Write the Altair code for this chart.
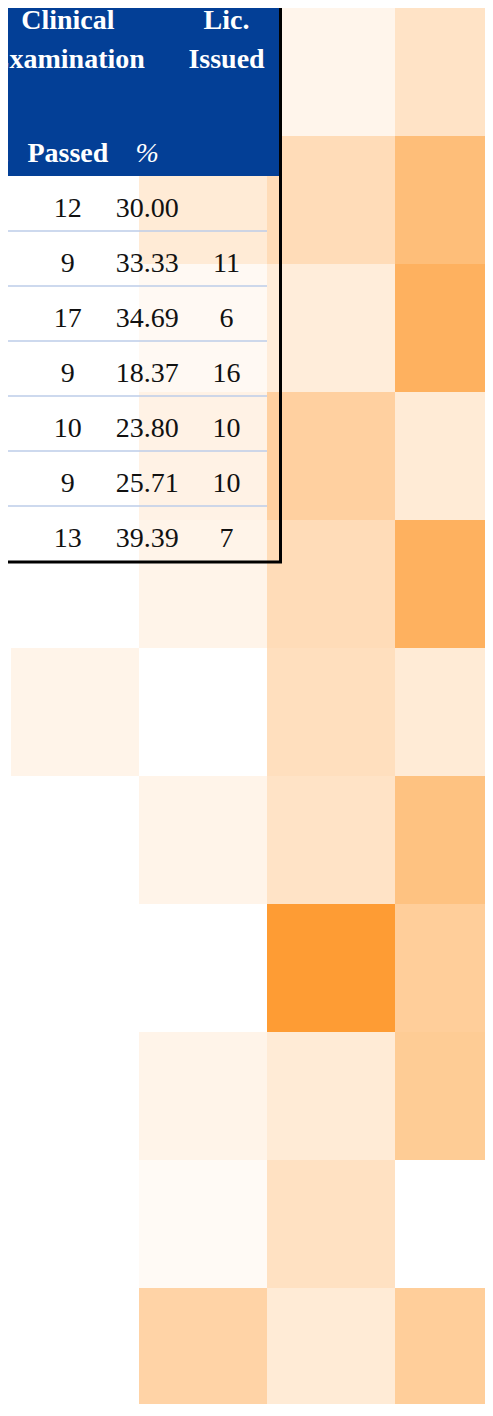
import altair as alt
import pandas as pd

# ---------------- heatmap values (columns left -> right, rows top -> bottom)
heat_rows = list(range(11))
col_a = [0, 0, 0, 0, 0, 0.11, 0, 0, 0, 0, 0]
col_b = [0, 0.20, 0.06, 0.13, 0.11, 0, 0.11, 0, 0.11, 0.05, 0.44]
col_c = [0.10, 0.35, 0.18, 0.47, 0.35, 0.32, 0.28, 1.00, 0.20, 0.30, 0.20]
col_d = [0.28, 0.66, 0.79, 0.20, 0.79, 0.20, 0.62, 0.50, 0.52, 0, 0.50]
heat_columns = [col_a, col_b, col_c, col_d]

# ---------------- table values
table_cols = ["Sat", "Passed", "%", "Lic"]
sat = [40, 27, 49, 49, 42, 35, 33]
passed = [12, 9, 17, 9, 10, 9, 13]
pct = ["30.00", "33.33", "34.69", "18.37", "23.80", "25.71", "39.39"]
lic = [None, 11, 6, 16, 10, 10, 7]
header_line1 = {"Passed": "Clinical", "Lic": "Lic."}
header_line2 = {"Passed": "Examination", "Lic": "Issued"}
header_line3 = {"Sat": "Sat", "Passed": "Passed"}
header_pct = {"%": "%"}

W, H = 477, 1396
CELL = 128
FONT = "Liberation Serif"

heat_df = pd.DataFrame(
    [{"col": ci, "row": r, "value": v}
     for ci, vals in enumerate(heat_columns)
     for r, v in zip(heat_rows, vals)]
)

cell_records = []
for i in range(len(sat)):
    for c, v in zip(table_cols, [sat[i], passed[i], pct[i], lic[i]]):
        if v is not None:
            cell_records.append({"trow": i + 1, "tcol": c, "label": str(v)})
cell_df = pd.DataFrame(cell_records)
sep_df = pd.DataFrame({"trow": list(range(1, len(sat)))})

def hdr_df(d):
    return pd.DataFrame([{"tcol": k, "label": v} for k, v in d.items()])

one = pd.DataFrame({"k": [0]})

xs_tab = alt.Scale(type="point", domain=table_cols, range=[-19.5, 218.5], padding=0)
ys_tab = alt.Scale(type="point", domain=list(range(1, 8)), range=[209, 539], padding=0)
ys_sep = alt.Scale(type="point", domain=list(range(1, 7)), range=[223, 498], padding=0)

heat = alt.Chart(heat_df).transform_calculate(
    col_end="datum.col + 1", row_end="datum.row + 1"
).mark_rect(clip=True, strokeWidth=0).encode(
    x=alt.X("col:Q", scale=alt.Scale(domain=[-3 / CELL, (W - 3) / CELL], nice=False, zero=False), axis=None),
    x2="col_end:Q",
    y=alt.Y("row:Q", scale=alt.Scale(domain=[0, H / CELL], nice=False, zero=False, reverse=True), axis=None),
    y2="row_end:Q",
    color=alt.Color(
        "value:Q",
        scale=alt.Scale(type="linear", domain=[0, 1], range=["#ffffff", "#fe9c34"], interpolate="rgb"),
        legend=None,
    ),
)

header_rect = alt.Chart(one).mark_rect(color="#033f96").encode(
    x=alt.value(0), x2=alt.value(271), y=alt.value(0), y2=alt.value(168)
)

seps = alt.Chart(sep_df).mark_rule(color="#bccde9", strokeWidth=1.5).encode(
    y=alt.Y("trow:O", scale=ys_sep, axis=None), x=alt.value(0), x2=alt.value(259)
)

border_r = alt.Chart(one).mark_rule(color="#000000", strokeWidth=3).encode(
    x=alt.value(272.5), y=alt.value(0), y2=alt.value(555)
)
border_b = alt.Chart(one).mark_rule(color="#000000", strokeWidth=3).encode(
    y=alt.value(554), x=alt.value(0), x2=alt.value(274)
)

def header_text(d, yv, weight="bold", style="normal"):
    return alt.Chart(hdr_df(d)).mark_text(
        font=FONT, fontSize=28, fontWeight=weight, fontStyle=style,
        color="#ffffff", baseline="alphabetic", align="center"
    ).encode(
        x=alt.X("tcol:N", scale=xs_tab, axis=None),
        y=alt.value(yv),
        text="label:N",
    )

h1 = header_text(header_line1, 21)
h2 = header_text(header_line2, 60)
h3 = header_text(header_line3, 154)
h4 = header_text(header_pct, 154, weight="normal", style="italic")

cells = alt.Chart(cell_df).mark_text(
    font=FONT, fontSize=28, color="#111111", baseline="alphabetic", align="center"
).encode(
    x=alt.X("tcol:N", scale=xs_tab, axis=None),
    y=alt.Y("trow:O", scale=ys_tab, axis=None),
    text="label:N",
)

chart = alt.layer(
    heat, header_rect, seps, border_r, border_b, h1, h2, h3, h4, cells
).resolve_scale(
    x="independent", y="independent", color="independent"
).properties(
    width=W, height=H, padding=0, background="#ffffff",
    autosize=alt.AutoSizeParams(type="none"),
).configure_view(stroke=None)

chart.save("out.html", embed_options={"renderer": "svg", "actions": False})
